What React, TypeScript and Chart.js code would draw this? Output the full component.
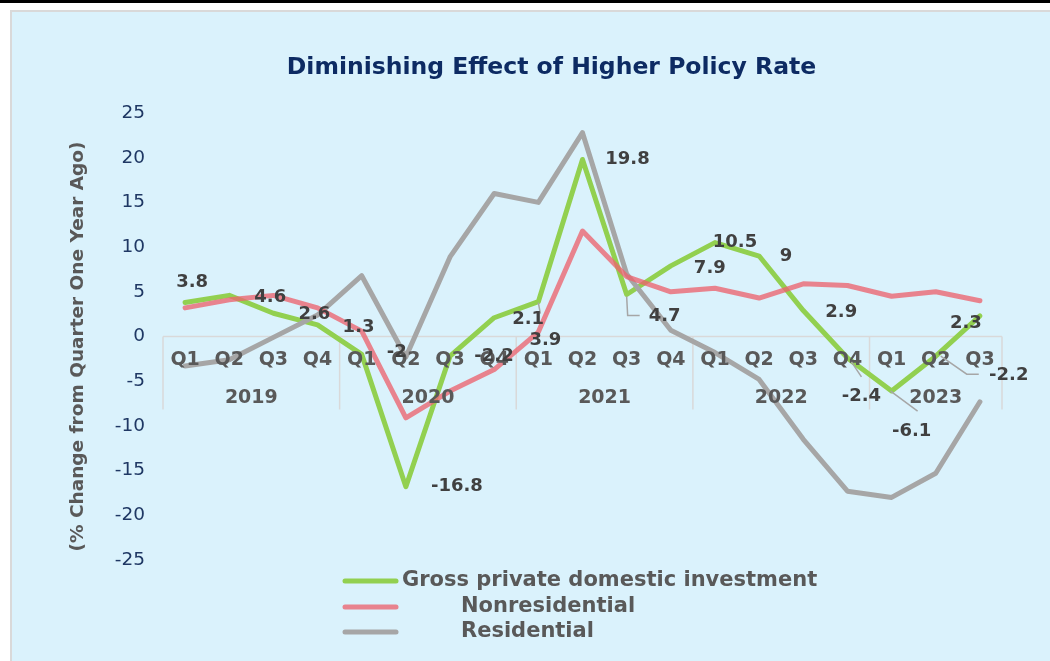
import React, { useEffect, useRef } from "react";
import { Chart, registerables } from "chart.js";

Chart.register(...registerables);

// ---------- data ----------
const quarters = [
  "Q1", "Q2", "Q3", "Q4",
  "Q1", "Q2", "Q3", "Q4",
  "Q1", "Q2", "Q3", "Q4",
  "Q1", "Q2", "Q3", "Q4",
  "Q1", "Q2", "Q3",
];
const years = ["2019", "2020", "2021", "2022", "2023"];
const yearSpans = [4, 4, 4, 4, 3];

const grossInvestment = [3.8, 4.6, 2.6, 1.3, -2, -16.8, -2.2, 2.1, 3.9, 19.8, 4.7, 7.9, 10.5, 9, 2.9, -2.4, -6.1, -2.2, 2.3];
const nonresidential = [3.2, 4.1, 4.6, 3.2, 0.6, -9.1, -6.1, -3.7, 0.5, 11.8, 6.7, 5.0, 5.4, 4.3, 5.9, 5.7, 4.5, 5.0, 4.0];
const residential = [-3.3, -2.6, -0.1, 2.4, 6.8, -2.3, 8.9, 16.0, 15.0, 22.8, 7.0, 0.7, -1.8, -4.8, -11.5, -17.3, -18.0, -15.3, -7.3];

const seriesNames = ["Gross private domestic investment", "Nonresidential", "Residential"];
const yMin = -25;
const yMax = 25;
const yStep = 5;

const chartTitle = "Diminishing Effect of Higher Policy Rate";
const yAxisTitle = "(% Change from Quarter One Year Ago)";

// ---------- styling ----------
const GREEN = "#92D050";
const RED = "rgba(236,100,110,0.78)";
const GRAY = "#A6A6A6";
const FONT = "'DejaVu Sans', Verdana, sans-serif";

// label offsets (px) relative to each gross-investment point
const labelDx = [7, 41, 41, 41, 35, 51, 44, 34, 7, 45, 38, 39, 20, 27, 38, 14, 20, 73, -14];
const labelDy = [-20, 2, 1, 2, -2, 0, 0, 2, 39, 0, 22, 2, 0, 0, 2, 38, 40, 19, 7];
// leader lines (relative px paths) for some labels
const leaders: Record<number, number[][]> = {
  8: [[0, 1], [2, 12]],
  10: [[0, 2], [1, 21], [13, 21]],
  15: [[4, 4], [14, 19]],
  16: [[-1, 0], [26, 20]],
  17: [[5, 0], [31, 18], [43, 18]],
};

const decorPlugin = {
  id: "excelDecor",
  beforeDatasetsDraw(chart: any) {
    const { ctx, chartArea, scales } = chart;
    const x = scales.x;
    const y = scales.y;
    const y0 = y.getPixelForValue(0);
    ctx.save();
    ctx.strokeStyle = "#D9D9D9";
    ctx.lineWidth = 1.5;
    ctx.beginPath();
    ctx.moveTo(chartArea.left, y0);
    ctx.lineTo(chartArea.right, y0);
    // year separators
    let idx = 0;
    const bounds = [chartArea.left];
    yearSpans.forEach((s) => {
      idx += s;
      if (idx < quarters.length) {
        bounds.push((x.getPixelForValue(idx - 1) + x.getPixelForValue(idx)) / 2);
      } else {
        bounds.push(chartArea.right);
      }
    });
    bounds.forEach((bx) => {
      ctx.moveTo(bx, y0);
      ctx.lineTo(bx, y0 + 73);
    });
    ctx.stroke();
    ctx.restore();
  },
  afterDatasetsDraw(chart: any) {
    const { ctx, scales } = chart;
    const x = scales.x;
    const y = scales.y;
    const y0 = y.getPixelForValue(0);
    ctx.save();
    // quarter labels
    ctx.fillStyle = "#595959";
    ctx.font = `bold 19px ${FONT}`;
    ctx.textAlign = "center";
    ctx.textBaseline = "middle";
    quarters.forEach((q, i) => {
      ctx.fillText(q, x.getPixelForValue(i), y0 + 24);
    });
    // year labels
    let start = 0;
    years.forEach((yr, k) => {
      const end = start + yearSpans[k] - 1;
      const cx = (x.getPixelForValue(start) + x.getPixelForValue(end)) / 2;
      ctx.fillText(yr, cx, y0 + 62);
      start = end + 1;
    });

    // data labels for gross investment
    ctx.strokeStyle = GRAY;
    ctx.lineWidth = 1.5;
    grossInvestment.forEach((v, i) => {
      const px = x.getPixelForValue(i);
      const py = y.getPixelForValue(v);
      const path = leaders[i];
      if (path) {
        ctx.beginPath();
        path.forEach((p, j) => {
          if (j === 0) ctx.moveTo(px + p[0], py + p[1]);
          else ctx.lineTo(px + p[0], py + p[1]);
        });
        ctx.stroke();
      }
    });
    ctx.fillStyle = "#404040";
    ctx.font = `bold 18px ${FONT}`;
    grossInvestment.forEach((v, i) => {
      const px = x.getPixelForValue(i);
      const py = y.getPixelForValue(v);
      ctx.fillText(String(v), px + labelDx[i], py + labelDy[i]);
    });
    ctx.restore();
  },
  afterDraw(chart: any) {
    const { ctx, chartArea } = chart;
    ctx.save();
    // title
    ctx.fillStyle = "#0D2B63";
    ctx.font = `bold 23.5px ${FONT}`;
    ctx.textAlign = "center";
    ctx.textBaseline = "middle";
    ctx.fillText(chartTitle, 551.5, 68);

    // y axis title
    ctx.save();
    ctx.translate(78, (chartArea.top + chartArea.bottom) / 2 + 10);
    ctx.rotate(-Math.PI / 2);
    ctx.fillStyle = "#595959";
    ctx.font = `bold 18.5px ${FONT}`;
    ctx.fillText(yAxisTitle, 0, 0);
    ctx.restore();

    // legend
    const rows = [581, 607, 632];
    const textX = [402, 461, 461];
    ctx.font = `bold 21px ${FONT}`;
    ctx.textAlign = "left";
    chart.data.datasets.forEach((ds: any, i: number) => {
      ctx.strokeStyle = ds.borderColor;
      ctx.lineWidth = 5;
      ctx.lineCap = "round";
      ctx.beginPath();
      ctx.moveTo(345, rows[i]);
      ctx.lineTo(396, rows[i]);
      ctx.stroke();
      ctx.fillStyle = "#595959";
      ctx.fillText(ds.label, textX[i], rows[i]);
    });
    ctx.restore();
  },
};

export default function App() {
  const canvasRef = useRef<HTMLCanvasElement | null>(null);

  useEffect(() => {
    document.body.style.margin = "0";
    const canvas = canvasRef.current;
    if (!canvas) return;
    const lineCommon = {
      borderWidth: 5,
      pointRadius: 0,
      pointHoverRadius: 0,
      tension: 0,
      borderCapStyle: "round" as const,
      borderJoinStyle: "round" as const,
      fill: false,
    };
    const chart = new Chart(canvas, {
      type: "line",
      data: {
        labels: quarters,
        datasets: [
          { ...lineCommon, label: seriesNames[0], data: grossInvestment, borderColor: GREEN, backgroundColor: GREEN, order: 3 },
          { ...lineCommon, label: seriesNames[1], data: nonresidential, borderColor: RED, backgroundColor: RED, order: 1 },
          { ...lineCommon, label: seriesNames[2], data: residential, borderColor: GRAY, backgroundColor: GRAY, order: 2 },
        ],
      },
      options: {
        responsive: false,
        animation: false,
        layout: { padding: { left: 0, right: 48, top: 113, bottom: 101 } },
        plugins: {
          legend: { display: false },
          title: { display: false },
          tooltip: { enabled: false },
        },
        scales: {
          x: {
            type: "category",
            display: false,
            offset: true,
          },
          y: {
            min: yMin,
            max: yMax,
            grid: { display: false, drawTicks: false },
            border: { display: false },
            ticks: {
              stepSize: yStep,
              padding: 18,
              color: "#1F3864",
              font: { family: FONT, size: 18.5 },
            },
            afterFit: (scale: any) => {
              scale.width = 163;
            },
          },
        },
      },
      plugins: [decorPlugin],
    });
    return () => chart.destroy();
  }, []);

  return (
    <div style={{ position: "relative", width: 1050, height: 661, background: "#ffffff", overflow: "hidden" }}>
      <div style={{ position: "absolute", left: 0, top: 0, width: 1050, height: 3, background: "#000000" }} />
      <div
        style={{
          position: "absolute",
          left: 10,
          top: 10,
          width: 1040,
          height: 651,
          boxSizing: "border-box",
          borderTop: "2px solid #D9D9D9",
          borderLeft: "2px solid #D9D9D9",
          background: "#DAF2FC",
        }}
      />
      <canvas ref={canvasRef} width={1050} height={661} style={{ position: "absolute", left: 0, top: 0, display: "block" }} />
    </div>
  );
}
